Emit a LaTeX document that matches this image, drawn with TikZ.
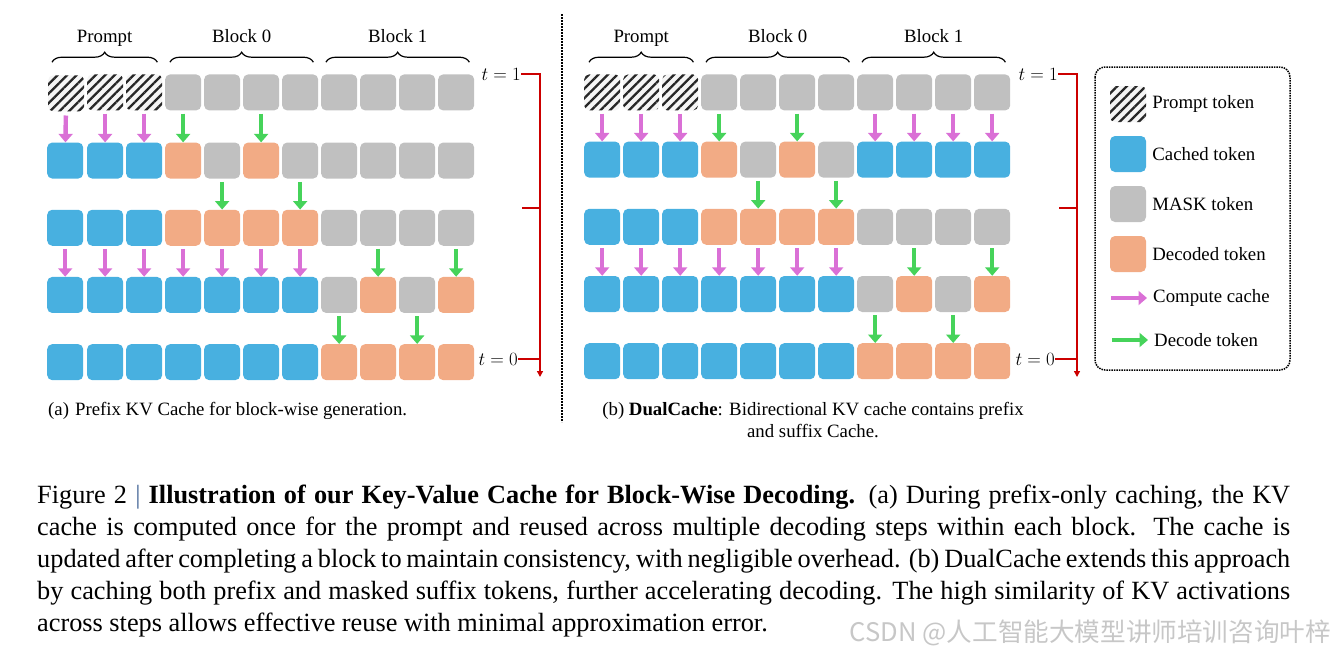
\RequirePackage{fix-cm}
\documentclass[tikz,border=0pt]{standalone}
\usepackage{fontspec}
\setmainfont{Liberation Serif}
\newfontfamily\cjk{Noto Sans CJK SC}
\usepackage{xcolor}
\usetikzlibrary{positioning, arrows.meta, patterns.meta, decorations.pathreplacing}

\definecolor{cblue}{HTML}{48B0E0}
\definecolor{cgray}{HTML}{C0C0C0}
\definecolor{corange}{HTML}{F2AB85}
\definecolor{cpink}{HTML}{DA70D6}
\definecolor{cgreen}{HTML}{46D35A}
\definecolor{cred}{HTML}{CC0000}
\definecolor{cbar}{HTML}{4A6A9A}

\begin{document}
\begin{tikzpicture}[x=1pt, y=-1pt, >={Triangle[width=14pt,length=8.5pt]},
     font=\fontsize{18.8}{22.5}\selectfont,
     tok/.style={rectangle, rounded corners=5pt, minimum size=36pt, inner sep=0pt},
     tokp/.style={tok, preaction={fill=black!4},
       pattern={Lines[angle=45,distance=6.7pt,line width=2.3pt]}, pattern color=black!85},
     tokc/.style={tok, fill=cblue},
     tokm/.style={tok, fill=cgray},
     tokd/.style={tok, fill=corange},
     pinkarr/.style={->, color=cpink, line width=4.4pt, shorten <=3pt},
     greenarr/.style={->, color=cgreen, line width=4.4pt, shorten <=3pt},
     brc/.style={decorate, decoration={brace, amplitude=10pt}, line width=1.2pt},
     lbl/.style={inner sep=0pt, text height=13pt, text depth=4pt},
     redln/.style={draw=cred, line width=1.4pt},
     lgtxt/.style={inner sep=0pt}]

  \useasboundingbox (0,0) rectangle (1334,654);

  % (a) prefix cache
  \matrix (ma) [anchor=north west, inner sep=0pt, column sep=3pt, row sep=31pt,
     ampersand replacement=\&] at (47,74) {
   \node[tokp] (a-1-1) {}; \& \node[tokp] (a-1-2) {}; \& \node[tokp] (a-1-3) {};
   \& \node[tokm] (a-1-4) {}; \& \node[tokm] (a-1-5) {}; \& \node[tokm] (a-1-6) {}; \& \node[tokm] (a-1-7) {};
   \& \node[tokm] (a-1-8) {}; \& \node[tokm] (a-1-9) {}; \& \node[tokm] (a-1-10) {}; \& \node[tokm] (a-1-11) {};\\
   \node[tokc] (a-2-1) {}; \& \node[tokc] (a-2-2) {}; \& \node[tokc] (a-2-3) {};
   \& \node[tokd] (a-2-4) {}; \& \node[tokm] (a-2-5) {}; \& \node[tokd] (a-2-6) {}; \& \node[tokm] (a-2-7) {};
   \& \node[tokm] (a-2-8) {}; \& \node[tokm] (a-2-9) {}; \& \node[tokm] (a-2-10) {}; \& \node[tokm] (a-2-11) {};\\
   \node[tokc] (a-3-1) {}; \& \node[tokc] (a-3-2) {}; \& \node[tokc] (a-3-3) {};
   \& \node[tokd] (a-3-4) {}; \& \node[tokd] (a-3-5) {}; \& \node[tokd] (a-3-6) {}; \& \node[tokd] (a-3-7) {};
   \& \node[tokm] (a-3-8) {}; \& \node[tokm] (a-3-9) {}; \& \node[tokm] (a-3-10) {}; \& \node[tokm] (a-3-11) {};\\
   \node[tokc] (a-4-1) {}; \& \node[tokc] (a-4-2) {}; \& \node[tokc] (a-4-3) {};
   \& \node[tokc] (a-4-4) {}; \& \node[tokc] (a-4-5) {}; \& \node[tokc] (a-4-6) {}; \& \node[tokc] (a-4-7) {};
   \& \node[tokm] (a-4-8) {}; \& \node[tokd] (a-4-9) {}; \& \node[tokm] (a-4-10) {}; \& \node[tokd] (a-4-11) {};\\
   \node[tokc] (a-5-1) {}; \& \node[tokc] (a-5-2) {}; \& \node[tokc] (a-5-3) {};
   \& \node[tokc] (a-5-4) {}; \& \node[tokc] (a-5-5) {}; \& \node[tokc] (a-5-6) {}; \& \node[tokc] (a-5-7) {};
   \& \node[tokd] (a-5-8) {}; \& \node[tokd] (a-5-9) {}; \& \node[tokd] (a-5-10) {}; \& \node[tokd] (a-5-11) {};\\
  };

  \path[pinkarr]
   (a-1-1) edge (a-2-1)
   (a-1-2) edge (a-2-2)
   (a-1-3) edge (a-2-3)
   (a-3-1) edge (a-4-1)
   (a-3-2) edge (a-4-2)
   (a-3-3) edge (a-4-3)
   (a-3-4) edge (a-4-4)
   (a-3-5) edge (a-4-5)
   (a-3-6) edge (a-4-6)
   (a-3-7) edge (a-4-7);
  \path[greenarr]
   (a-1-4) edge (a-2-4)
   (a-1-6) edge (a-2-6)
   (a-2-5) edge (a-3-5)
   (a-2-7) edge (a-3-7)
   (a-3-9) edge (a-4-9)
   (a-3-11) edge (a-4-11)
   (a-4-8) edge (a-5-8)
   (a-4-10) edge (a-5-10);

  \draw[brc] ([xshift=5pt,yshift=12pt]a-1-1.north west) -- ([xshift=-5pt,yshift=12pt]a-1-3.north east)
     node[lbl, midway, above=15pt] (pa) {Prompt};
  \draw[brc] ([xshift=5pt,yshift=12pt]a-1-4.north west) -- ([xshift=-5pt,yshift=12pt]a-1-7.north east)
     node[lbl, midway, above=15pt] (ba0) {Block 0};
  \draw[brc] ([xshift=5pt,yshift=12pt]a-1-8.north west) -- ([xshift=-5pt,yshift=12pt]a-1-11.north east)
     node[lbl, midway, above=15pt] (ba1) {Block 1};

  \node[anchor=base east, inner sep=0pt] (ta1) at (521,80) {$t = 1$};
  \node[anchor=base east, inner sep=0pt] (ta0) at (518,365) {$t = 0$};
  \coordinate (ra) at (540,377);
  \coordinate (rta) at (522,208);
  \draw[redln, -{Triangle[width=6pt,length=6pt]}] (ta1.east) -| (ra);
  \draw[redln] (rta) -- (rta -| ra);
  \draw[redln] (ta0.east) -- (ta0.east -| ra);

  \node[anchor=base west, inner sep=0pt] (capa) at (48,415)
     {(a)\hspace{6pt}Prefix KV Cache for block-wise generation.};

  % separator
  \draw[densely dotted, line width=2pt] (562,14) -- (562,422);

  % (b) dual cache
  \matrix (mb) [anchor=north west, inner sep=0pt, column sep=3pt, row sep=31pt,
     ampersand replacement=\&] at (584,74) {
   \node[tokp] (b-1-1) {}; \& \node[tokp] (b-1-2) {}; \& \node[tokp] (b-1-3) {};
   \& \node[tokm] (b-1-4) {}; \& \node[tokm] (b-1-5) {}; \& \node[tokm] (b-1-6) {}; \& \node[tokm] (b-1-7) {};
   \& \node[tokm] (b-1-8) {}; \& \node[tokm] (b-1-9) {}; \& \node[tokm] (b-1-10) {}; \& \node[tokm] (b-1-11) {};\\
   \node[tokc] (b-2-1) {}; \& \node[tokc] (b-2-2) {}; \& \node[tokc] (b-2-3) {};
   \& \node[tokd] (b-2-4) {}; \& \node[tokm] (b-2-5) {}; \& \node[tokd] (b-2-6) {}; \& \node[tokm] (b-2-7) {};
   \& \node[tokc] (b-2-8) {}; \& \node[tokc] (b-2-9) {}; \& \node[tokc] (b-2-10) {}; \& \node[tokc] (b-2-11) {};\\
   \node[tokc] (b-3-1) {}; \& \node[tokc] (b-3-2) {}; \& \node[tokc] (b-3-3) {};
   \& \node[tokd] (b-3-4) {}; \& \node[tokd] (b-3-5) {}; \& \node[tokd] (b-3-6) {}; \& \node[tokd] (b-3-7) {};
   \& \node[tokm] (b-3-8) {}; \& \node[tokm] (b-3-9) {}; \& \node[tokm] (b-3-10) {}; \& \node[tokm] (b-3-11) {};\\
   \node[tokc] (b-4-1) {}; \& \node[tokc] (b-4-2) {}; \& \node[tokc] (b-4-3) {};
   \& \node[tokc] (b-4-4) {}; \& \node[tokc] (b-4-5) {}; \& \node[tokc] (b-4-6) {}; \& \node[tokc] (b-4-7) {};
   \& \node[tokm] (b-4-8) {}; \& \node[tokd] (b-4-9) {}; \& \node[tokm] (b-4-10) {}; \& \node[tokd] (b-4-11) {};\\
   \node[tokc] (b-5-1) {}; \& \node[tokc] (b-5-2) {}; \& \node[tokc] (b-5-3) {};
   \& \node[tokc] (b-5-4) {}; \& \node[tokc] (b-5-5) {}; \& \node[tokc] (b-5-6) {}; \& \node[tokc] (b-5-7) {};
   \& \node[tokd] (b-5-8) {}; \& \node[tokd] (b-5-9) {}; \& \node[tokd] (b-5-10) {}; \& \node[tokd] (b-5-11) {};\\
  };

  \path[pinkarr]
   (b-1-1) edge (b-2-1)
   (b-1-2) edge (b-2-2)
   (b-1-3) edge (b-2-3)
   (b-1-8) edge (b-2-8)
   (b-1-9) edge (b-2-9)
   (b-1-10) edge (b-2-10)
   (b-1-11) edge (b-2-11)
   (b-3-1) edge (b-4-1)
   (b-3-2) edge (b-4-2)
   (b-3-3) edge (b-4-3)
   (b-3-4) edge (b-4-4)
   (b-3-5) edge (b-4-5)
   (b-3-6) edge (b-4-6)
   (b-3-7) edge (b-4-7);
  \path[greenarr]
   (b-1-4) edge (b-2-4)
   (b-1-6) edge (b-2-6)
   (b-2-5) edge (b-3-5)
   (b-2-7) edge (b-3-7)
   (b-3-9) edge (b-4-9)
   (b-3-11) edge (b-4-11)
   (b-4-8) edge (b-5-8)
   (b-4-10) edge (b-5-10);

  \draw[brc] ([xshift=5pt,yshift=12pt]b-1-1.north west) -- ([xshift=-5pt,yshift=12pt]b-1-3.north east)
     node[lbl, midway, above=15pt] (pb) {Prompt};
  \draw[brc] ([xshift=5pt,yshift=12pt]b-1-4.north west) -- ([xshift=-5pt,yshift=12pt]b-1-7.north east)
     node[lbl, midway, above=15pt] (bb0) {Block 0};
  \draw[brc] ([xshift=5pt,yshift=12pt]b-1-8.north west) -- ([xshift=-5pt,yshift=12pt]b-1-11.north east)
     node[lbl, midway, above=15pt] (bb1) {Block 1};

  \node[anchor=base east, inner sep=0pt] (tb1) at (1058,80) {$t = 1$};
  \node[anchor=base east, inner sep=0pt] (tb0) at (1055,365) {$t = 0$};
  \coordinate (rb) at (1077,377);
  \coordinate (rtb) at (1059,208);
  \draw[redln, -{Triangle[width=6pt,length=6pt]}] (tb1.east) -| (rb);
  \draw[redln] (rtb) -- (rtb -| rb);
  \draw[redln] (tb0.east) -- (tb0.east -| rb);

  \node[anchor=north, inner sep=0pt, align=center] (capb) at (813,402)
     {(b) \textbf{DualCache}: Bidirectional KV cache contains prefix\\and suffix Cache.};

  % legend
  \draw[densely dotted, line width=1.5pt, rounded corners=10pt] (1095,67) rectangle (1290,370);
  \node[tokp] (lgp) at (1128,104) {};
  \node[lgtxt, right=6pt of lgp] {Prompt token};
  \node[tokc] (lgc) at (1128,154) {};
  \node[lgtxt, right=6pt of lgc] {Cached token};
  \node[tokm] (lgm) at (1128,204) {};
  \node[lgtxt, right=6pt of lgm] {MASK token};
  \node[tokd] (lgd) at (1128,254) {};
  \node[lgtxt, right=6pt of lgd] {Decoded token};
  \coordinate (lca) at (1111,298);
  \coordinate (lcb) at (1147,298);
  \path[pinkarr, shorten <=0pt] (lca) edge (lcb);
  \node[lgtxt, right=6pt of lcb] {Compute cache};
  \coordinate (lda) at (1112,340);
  \coordinate (ldb) at (1148,340);
  \path[greenarr, shorten <=0pt] (lda) edge (ldb);
  \node[lgtxt, right=6pt of ldb] {Decode token};

  % figure caption
  \node[anchor=north west, inner sep=0pt, text width=1253pt, align=justify,
     font=\fontsize{26.3}{32}\selectfont] (cap) at (37,485)
     {Figure 2 {\color{cbar}|} \textbf{Illustration of our Key-Value Cache for Block-Wise Decoding.} (a) During prefix-only caching, the KV\linebreak
      cache is computed once for the prompt and reused across multiple decoding steps within each block. The cache is\linebreak
      updated after completing a block to maintain consistency, with negligible overhead. (b) DualCache extends this approach\linebreak
      by caching both prefix and masked suffix tokens, further accelerating decoding. The high similarity of KV activations\linebreak
      across steps allows effective reuse with minimal approximation error.};

  \node[anchor=east, inner sep=0pt, text=black!22, font=\cjk\fontsize{25.6}{26}\selectfont] (wm) at (1331,633)
     {CSDN @人工智能大模型讲师培训咨询叶梓};
 \end{tikzpicture}
\end{document}
